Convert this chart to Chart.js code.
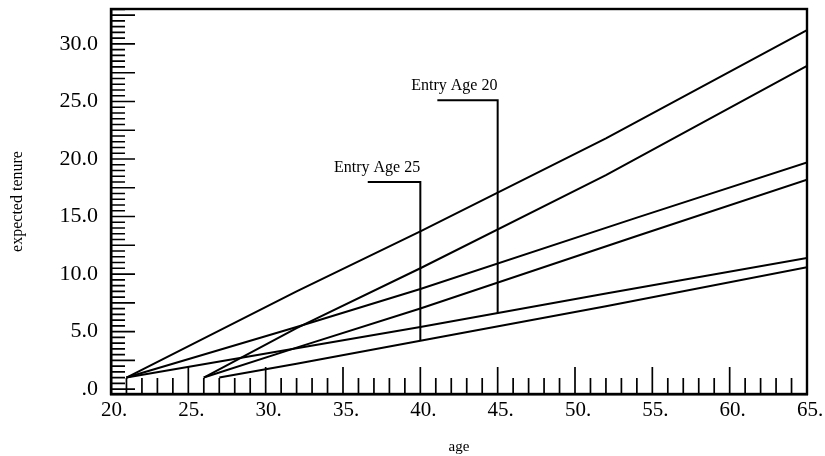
<!DOCTYPE html>
<html><head><meta charset="utf-8">
<script src="https://cdn.jsdelivr.net/npm/chart.js@4"></script>
<style>html,body{margin:0;padding:0;background:#fff}</style>
</head><body>
<canvas id="c" width="825" height="456"></canvas>
<script>
// tick labels
const xTickValues = [20,25,30,35,40,45,50,55,60,65];
const yTickValues = [0,5,10,15,20,25,30];

// Entry Age 20 cohort (three curves)
const e20HighAge = [21,32,40,52,65];
const e20HighVal = [1.0,8.5,13.7,21.8,31.2];
const e20MidAge  = [21,32,40,54,65];
const e20MidVal  = [1.0,5.4,8.7,14.9,19.7];
const e20LowAge  = [21,40,52,65];
const e20LowVal  = [1.0,5.4,8.3,11.4];

// Entry Age 25 cohort (three curves)
const e25HighAge = [26,32,40,52,65];
const e25HighVal = [1.0,5.3,10.5,18.6,28.1];
const e25MidAge  = [26,32,40,54,65];
const e25MidVal  = [1.0,3.6,7.0,13.3,18.2];
const e25LowAge  = [27,32,40,52,65];
const e25LowVal  = [1.0,2.2,4.2,7.2,10.6];

// annotation leaders (data coordinates)
const lead25Age = [36.6,40,40];
const lead25Val = [18.0,18.0,4.2];
const lead20Age = [41.1,45,45];
const lead20Val = [25.1,25.1,6.6];
const labelTexts = ['Entry Age 25','Entry Age 20'];
const labelAges = [37.2,42.2];
const labelVals = [19.2,26.4];

const pts = (a,v) => a.map((x,i)=>({x:x,y:v[i]}));
const ds = (a,v) => ({data:pts(a,v),borderColor:'#000',borderWidth:2,pointRadius:0,tension:0,fill:false});

const serif = "'Liberation Serif','Times New Roman',serif";

const framePlugin = {
  id:'frame',
  afterDatasetsDraw(chart){
    const {ctx, chartArea:a, scales:{x,y}} = chart;
    ctx.save();
    ctx.strokeStyle='#000';
    ctx.lineWidth=1.7;
    ctx.beginPath();
    for(let v=x.min; v<=x.max; v++){
      const px=x.getPixelForValue(v);
      const len = v%5===0 ? 27 : 16;
      ctx.moveTo(px,a.bottom); ctx.lineTo(px,a.bottom-len);
    }
    for(let k=0; k*0.5<=y.max; k++){
      const py=y.getPixelForValue(k*0.5);
      const len = k%5===0 ? 24 : 14;
      ctx.moveTo(a.left,py); ctx.lineTo(a.left+len,py);
    }
    ctx.stroke();
    ctx.lineWidth=2.4;
    ctx.strokeRect(a.left,a.top,a.right-a.left,a.bottom-a.top);
    ctx.fillStyle='#000';
    ctx.font="16px "+serif;
    ctx.textAlign='center';ctx.textBaseline='middle';
    labelTexts.forEach((t,i)=>{
      ctx.fillText(t, x.getPixelForValue(labelAges[i]), y.getPixelForValue(labelVals[i]));
    });
    ctx.restore();
  }
};

new Chart(document.getElementById('c'),{
  type:'line',
  data:{datasets:[
    ds(e20HighAge,e20HighVal), ds(e20MidAge,e20MidVal), ds(e20LowAge,e20LowVal),
    ds(e25HighAge,e25HighVal), ds(e25MidAge,e25MidVal), ds(e25LowAge,e25LowVal),
    ds(lead25Age,lead25Val), ds(lead20Age,lead20Val)
  ]},
  options:{
    responsive:false, animation:false,
    layout:{padding:{top:9,right:18,bottom:0,left:0}},
    plugins:{legend:{display:false},tooltip:{enabled:false}},
    scales:{
      x:{type:'linear',min:20,max:65,
        afterBuildTicks:s=>{s.ticks=xTickValues.map(v=>({value:v}));},
        afterFit:s=>{s.height=62;s.paddingLeft=0;s.paddingRight=0;},
        grid:{display:true,drawOnChartArea:false,drawTicks:false},
        border:{display:true,color:'#000',width:2.4},
        ticks:{color:'#000',padding:4,labelOffset:3,maxRotation:0,autoSkip:false,font:{family:serif,size:21},callback:v=>v+'.'},
        title:{display:true,text:'age',color:'#000',font:{family:serif,size:15},padding:{top:0,bottom:0}}
      },
      y:{type:'linear',min:-0.43,max:33.04,
        afterBuildTicks:s=>{s.ticks=yTickValues.map(v=>({value:v}));},
        afterFit:s=>{s.width=111;s.paddingTop=0;s.paddingBottom=0;},
        grid:{display:true,drawOnChartArea:false,drawTicks:false},
        border:{display:true,color:'#000',width:2.4},
        ticks:{color:'#000',padding:13,autoSkip:false,font:{family:serif,size:22},callback:v=>v===0?'.0':v.toFixed(1)},
        title:{display:true,text:'expected tenure',color:'#000',font:{family:serif,size:16},padding:{top:8,bottom:0}}
      }
    }
  },
  plugins:[framePlugin]
});
</script>
</body></html>
